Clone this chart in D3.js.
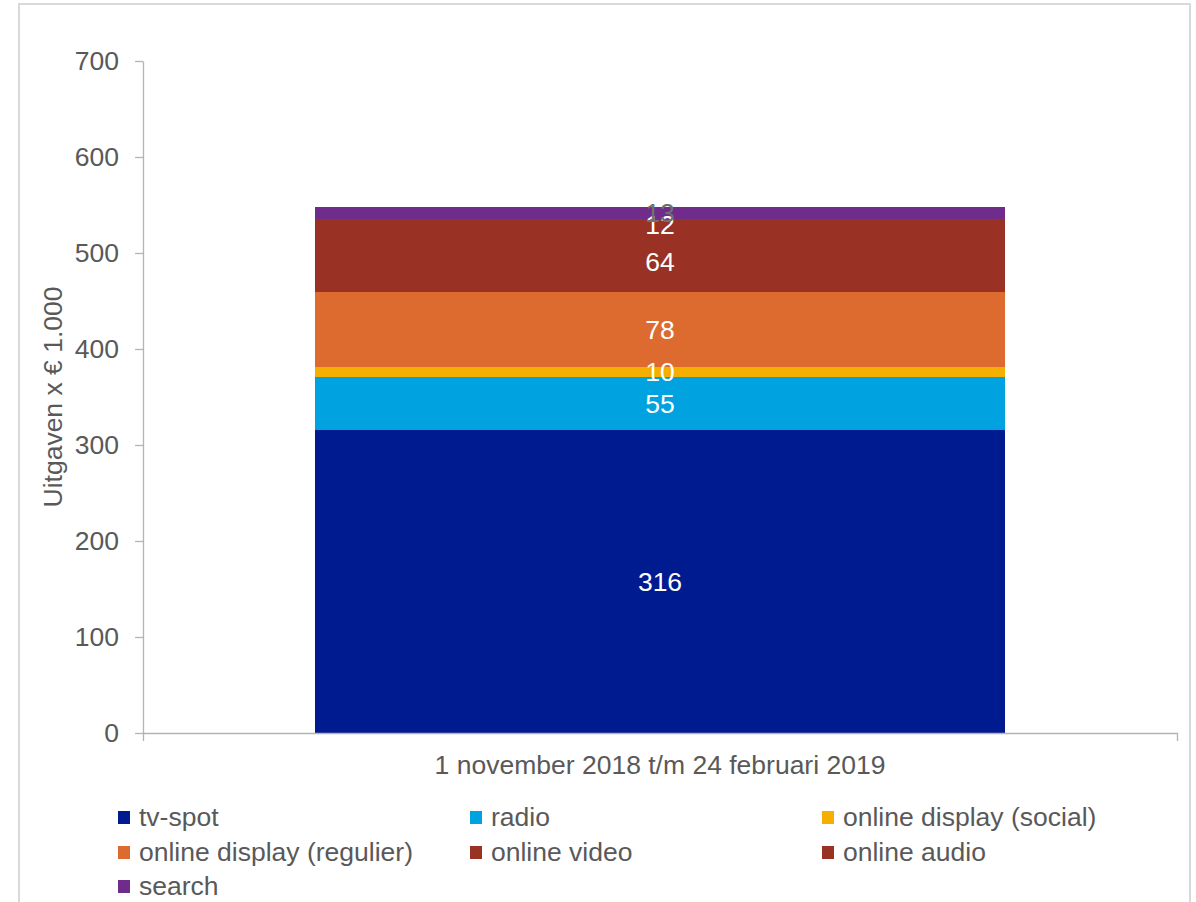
<!DOCTYPE html>
<html>
<head>
<meta charset="utf-8">
<script src="https://cdn.jsdelivr.net/npm/d3@7"></script>
<style>
  html, body { margin: 0; padding: 0; background: #ffffff; }
  svg { display: block; font-family: "Liberation Sans", Arial, sans-serif; }
</style>
</head>
<body>
<svg id="chart" width="1196" height="902"></svg>
<script>
// Media spend per channel, period 1 Nov 2018 – 24 Feb 2019 (x € 1.000)
const categories = ["1 november 2018 t/m 24 februari 2019"];
const seriesNames = ["tv-spot", "radio", "online display (social)", "online display (regulier)", "online video", "online audio", "search"];
const seriesValues = [316, 55, 10, 78, 64, 12, 13];
const seriesColors = ["#001a90", "#00a3e0", "#f5af00", "#dd6b30", "#993225", "#993225", "#6f2c8a"];
const labelColors = ["#ffffff", "#ffffff", "#ffffff", "#ffffff", "#ffffff", "#ffffff", "#707070"];
const yTicks = [0, 100, 200, 300, 400, 500, 600, 700];
const yTitle = "Uitgaven x € 1.000";

const svg = d3.select("#chart");
const textColor = "#595959";
const axisColor = "#b3b3b3";
const fontSize = 26.5;

// outer frame
svg.append("rect")
  .attr("x", 19).attr("y", 4)
  .attr("width", 1171).attr("height", 920)
  .attr("fill", "none").attr("stroke", "#d9d9d9").attr("stroke-width", 2);

const plot = { left: 143, right: 1177, top: 61, bottom: 733 };

const x = d3.scaleBand().domain(categories)
  .range([plot.left, plot.right]).paddingInner(1 / 3).paddingOuter(1 / 6);
const y = d3.scaleLinear().domain([0, 700]).range([plot.bottom, plot.top]);

// stacked layout
const row = { cat: categories[0] };
seriesNames.forEach((n, i) => row[n] = seriesValues[i]);
const stacked = d3.stack().keys(seriesNames)([row]);

const bars = svg.append("g").attr("shape-rendering", "crispEdges");
stacked.forEach((layer, i) => {
  const d = layer[0];
  bars.append("rect")
    .attr("x", x(d.data.cat))
    .attr("width", x.bandwidth())
    .attr("y", y(d[1]))
    .attr("height", y(d[0]) - y(d[1]))
    .attr("fill", seriesColors[i]);
});

// value labels centred in each segment
const labels = svg.append("g");
stacked.forEach((layer, i) => {
  const d = layer[0];
  labels.append("text")
    .attr("x", x(d.data.cat) + x.bandwidth() / 2)
    .attr("y", y((d[0] + d[1]) / 2))
    .attr("dy", "0.35em")
    .attr("text-anchor", "middle")
    .attr("font-size", fontSize)
    .attr("fill", labelColors[i])
    .text(seriesValues[i]);
});

// y axis
const yAxis = svg.append("g")
  .attr("transform", `translate(${plot.left},0)`)
  .call(d3.axisLeft(y).tickValues(yTicks).tickSize(8).tickSizeOuter(0).tickPadding(16));
yAxis.selectAll("path, line").attr("stroke", axisColor).attr("stroke-width", 1.3);
yAxis.selectAll("text").attr("font-size", fontSize).attr("fill", textColor)
  .attr("font-family", "Liberation Sans, Arial, sans-serif");

// x axis
const xAxis = svg.append("g")
  .attr("transform", `translate(0,${plot.bottom})`)
  .call(d3.axisBottom(x).tickSize(0).tickSizeOuter(8).tickPadding(22));
xAxis.selectAll("path, line").attr("stroke", axisColor).attr("stroke-width", 1.3);
xAxis.selectAll("text").attr("font-size", fontSize).attr("fill", textColor)
  .attr("font-family", "Liberation Sans, Arial, sans-serif");

// y axis title
svg.append("text")
  .attr("transform", `translate(62,${(plot.top + plot.bottom) / 2}) rotate(-90)`)
  .attr("text-anchor", "middle")
  .attr("font-size", fontSize)
  .attr("fill", textColor)
  .text(yTitle);

// legend, three columns
const legendCols = [118, 470, 822];
const legendRows = [826, 861, 895];
const legend = svg.append("g");
seriesNames.forEach((n, i) => {
  const cx = legendCols[i % 3];
  const cy = legendRows[Math.floor(i / 3)];
  legend.append("rect")
    .attr("x", cx).attr("y", cy - 15)
    .attr("width", 12).attr("height", 13)
    .attr("fill", seriesColors[i]);
  legend.append("text")
    .attr("x", cx + 21).attr("y", cy)
    .attr("font-size", fontSize)
    .attr("fill", textColor)
    .text(n);
});
</script>
</body>
</html>
